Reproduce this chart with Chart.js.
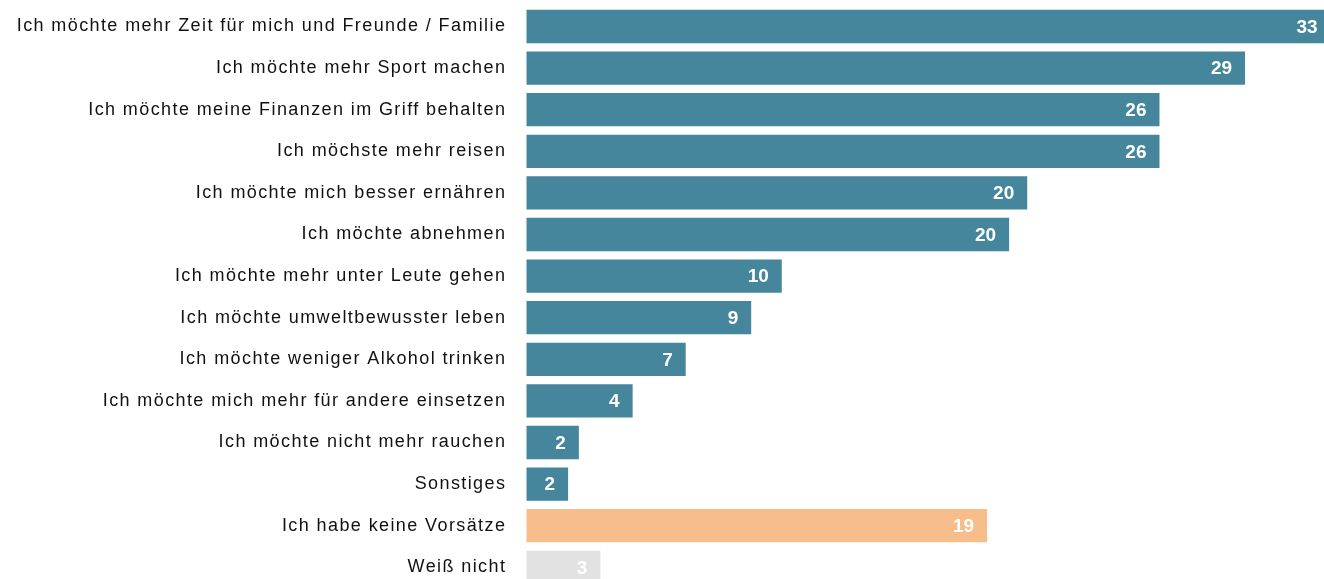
<!DOCTYPE html>
<html>

<head>
  <title>Vorsätze</title>
  <script type="text/javascript" src="https://cdn.jsdelivr.net/npm/chart.js"></script>
  <style>
    body { margin: 0; overflow: hidden; background: #ffffff; }
    #chart-container { position: relative; width: 1324px; height: 590px; }
  </style>
</head>

<body>

  <div id="chart-container">
    <canvas id="resolutions-chart"></canvas>
  </div>

  <script type="text/javascript">
    // Answers, share of respondents in percent
    const answers = [
        'Ich möchte mehr Zeit für mich und Freunde / Familie',
        'Ich möchte mehr Sport machen',
        'Ich möchte meine Finanzen im Griff behalten',
        'Ich möchste mehr reisen',
        'Ich möchte mich besser ernähren',
        'Ich möchte abnehmen',
        'Ich möchte mehr unter Leute gehen',
        'Ich möchte umweltbewusster leben',
        'Ich möchte weniger Alkohol trinken',
        'Ich möchte mich mehr für andere einsetzen',
        'Ich möchte nicht mehr rauchen',
        'Sonstiges',
        'Ich habe keine Vorsätze',
        'Weiß nicht'
    ];
    const shares = [32.9, 29.4, 25.9, 25.9, 20.49, 19.75, 10.45, 9.2, 6.52, 4.35, 2.15, 1.71, 18.85, 3.03];
    const answerTypes = ['vorsatz', 'vorsatz', 'vorsatz', 'vorsatz', 'vorsatz', 'vorsatz', 'vorsatz',
                         'vorsatz', 'vorsatz', 'vorsatz', 'vorsatz', 'vorsatz', 'keine', 'weissnicht'];

    const typeColors = {
        vorsatz: '#45869c',
        keine: '#f7be8b',
        weissnicht: '#e2e2e2'
    };

    Chart.defaults.font.family = "'Liberation Sans', Arial, sans-serif";

    // the category labels are set a bit wider than plain Arial
    const letterSpacing = {
        id: 'letterSpacing',
        beforeDraw(chart) {
            chart.ctx.letterSpacing = '1.4px';
        }
    };

    // white value at the right end of every bar
    const barValues = {
        id: 'barValues',
        afterDatasetsDraw(chart) {
            const ctx = chart.ctx;
            const meta = chart.getDatasetMeta(0);
            ctx.save();
            ctx.letterSpacing = '0px';
            ctx.font = "bold 19px 'Liberation Sans', Arial, sans-serif";
            ctx.fillStyle = '#ffffff';
            ctx.textAlign = 'right';
            ctx.textBaseline = 'middle';
            meta.data.forEach(function(bar, i) {
                ctx.fillText(String(Math.round(shares[i])), bar.x - 13, bar.y + 1);
            });
            ctx.restore();
        }
    };

    const ctx = document.getElementById('resolutions-chart');
    const chart = new Chart(ctx, {
        type: 'bar',
        data: {
            labels: answers,
            datasets: [{
                data: shares,
                backgroundColor: answerTypes.map(t => typeColors[t]),
                borderWidth: 0,
                categoryPercentage: 1.0,
                barPercentage: 0.8
            }]
        },
        options: {
            indexAxis: 'y',
            responsive: true,
            maintainAspectRatio: false,
            animation: false,
            layout: {
                padding: { top: 5.7, bottom: 1.9, left: 0, right: 0 }
            },
            scales: {
                x: {
                    display: false,
                    min: 0,
                    max: 32.63
                },
                y: {
                    grid: { display: false, drawTicks: false },
                    border: { display: false },
                    ticks: {
                        color: '#111111',
                        padding: 20,
                        font: { size: 18 }
                    },
                    afterFit: function(scale) {
                        scale.width = 526.3;
                        // labels sit beside the bars, no extra room above or below
                        scale.paddingTop = 0;
                        scale.paddingBottom = 0;
                    }
                }
            },
            plugins: {
                legend: { display: false },
                tooltip: { enabled: false }
            }
        },
        plugins: [letterSpacing, barValues]
    });
  </script>

</body>

</html>
